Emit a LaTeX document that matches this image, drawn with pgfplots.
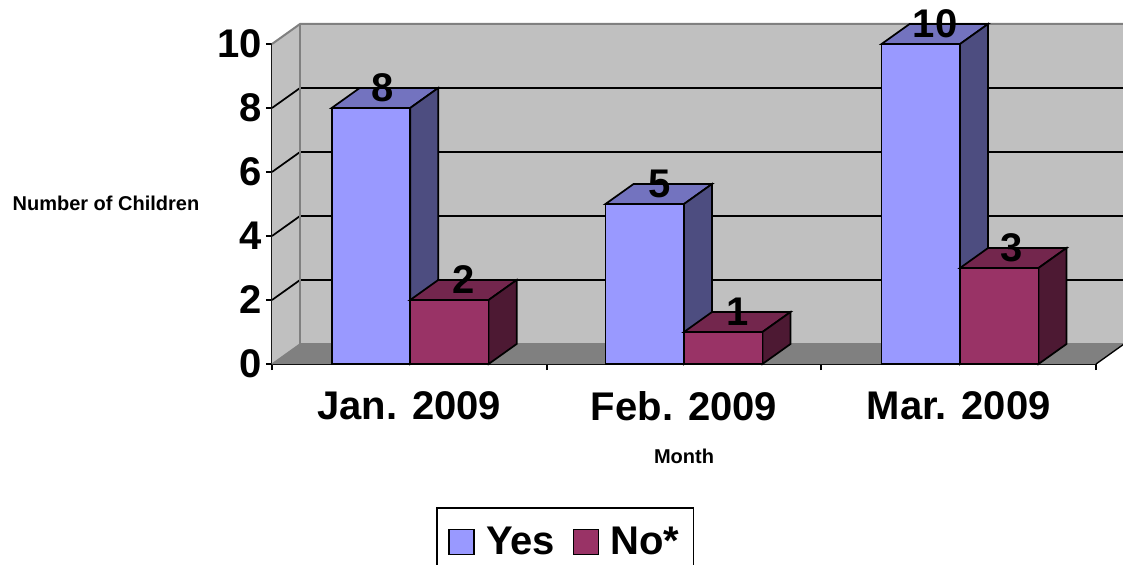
\documentclass[border=0pt]{standalone}
\usepackage{pgfplots}
\pgfplotsset{compat=1.18}
\usepackage{fontspec}
\setmainfont{Liberation Sans}
\definecolor{wall}{HTML}{C0C0C0}
\definecolor{floorc}{HTML}{808080}
\definecolor{yesfront}{HTML}{9999FF}
\definecolor{yestop}{HTML}{7373BF}
\definecolor{yesside}{HTML}{4D4D80}
\definecolor{nofront}{HTML}{993366}
\definecolor{notop}{HTML}{73264D}
\definecolor{noside}{HTML}{4D1933}
% depth of the pseudo-3D box, in axis units
\newcommand\ddx{0.102}
\newcommand\ddy{0.625}
% top and side faces of a bar: left x, right x, value, top colour, side colour
\newcommand\barfaces[5]{%
  \pgfmathsetmacro\xa{#1+\ddx}%
  \pgfmathsetmacro\xb{#2+\ddx}%
  \pgfmathsetmacro\yb{#3+\ddy}%
  \addplot[forget plot,fill=#4,draw=black,line width=1.3pt,line join=miter]
    coordinates {(#1,#3) (\xa,\yb) (\xb,\yb) (#2,#3) (#1,#3)} -- cycle;
  \addplot[forget plot,fill=#5,draw=black,line width=1.3pt,line join=miter]
    coordinates {(#2,0) (\xb,\ddy) (\xb,\yb) (#2,#3) (#2,0)} -- cycle;
}
\begin{document}
\begin{tikzpicture}
\useasboundingbox (0,0) rectangle (842.25pt,423pt);
\begin{axis}[
  at={(204pt,150pt)},anchor=south west,
  scale only axis,width=618pt,height=240pt,
  xmin=0,xmax=3,ymin=0,ymax=10,clip=false,
  axis lines=left,axis line style={-,black,line width=1.3pt},
  tick align=outside,
  major tick length=4.5pt,minor tick length=4.5pt,
  tick style={black,line width=1.3pt},
  xtick={0.5,1.5,2.5},
  xticklabels={Jan. 2009,Feb. 2009,Mar. 2009},
  minor xtick={0,1,2,3},
  x tick style={draw=none},
  minor x tick style={draw=black,line width=1.3pt},
  ytick={0,2,4,6,8,10},
  /pgf/number format/assume math mode=true,
  tick label style={font=\fontsize{30}{36}\selectfont\bfseries},
  xticklabel style={yshift=-13pt,inner sep=3pt},
  yticklabel style={inner sep=3pt},
  xlabel={Month},ylabel={Number of Children},
  every axis x label/.style={at={(rel axis cs:0.5,-0.29)},anchor=center,font=\fontsize{15}{18}\selectfont\bfseries},
  every axis y label/.style={at={(rel axis cs:-0.2015,0.503)},anchor=center,font=\fontsize{15}{18}\selectfont\bfseries},
  legend columns=2,
  legend style={at={(0.199,-0.447)},anchor=north west,draw=black,line width=1.3pt,
    font=\fontsize{30}{36}\selectfont\bfseries,inner xsep=8.5pt,inner ysep=12.5pt,
    /tikz/every even column/.append style={column sep=11pt},
    /tikz/every odd column/.append style={column sep=6.5pt}},
  nodes near coords style={anchor=center,inner sep=0pt,font=\fontsize{30}{36}\selectfont\bfseries},
]
% box walls and floor
\addplot[forget plot,fill=wall,draw=none] coordinates {(0,0) (\ddx,\ddy) (\ddx,10.625) (0,10) (0,0)} -- cycle;
\addplot[forget plot,fill=wall,draw=none] coordinates {(\ddx,\ddy) (3.102,\ddy) (3.102,10.625) (\ddx,10.625) (\ddx,\ddy)} -- cycle;
\addplot[forget plot,fill=floorc,draw=none] coordinates {(0,0) (\ddx,\ddy) (3.102,\ddy) (3,0) (0,0)} -- cycle;
% grid lines on the left and back walls
\foreach \v in {2,4,6,8} {
  \pgfmathsetmacro\vb{\v+\ddy}
  \addplot[forget plot,black,line width=1.3pt] coordinates {(0,\v) (\ddx,\vb) (3.102,\vb)};
}
\addplot[forget plot,floorc,line width=1.5pt] coordinates {(0,10) (\ddx,10.625) (3.102,10.625) (3.102,\ddy)};
\addplot[forget plot,floorc,line width=1.5pt] coordinates {(\ddx,10.625) (\ddx,\ddy) (3.102,\ddy)};
\addplot[forget plot,floorc,line width=1pt] coordinates {(0,0) (\ddx,\ddy)};
\addplot[forget plot,black,line width=1pt] coordinates {(3,0) (3.102,\ddy)};
% Jan. 2009
\barfaces{0.2173}{0.503}{8}{yestop}{yesside}
\addplot[ybar,bar width=0.2857,bar shift=-0.14285,fill=yesfront,draw=black,line width=1.3pt,
  legend image code/.code={\draw[fill=yesfront,draw=black,line width=1.3pt] (0pt,-9.4pt) rectangle (18.75pt,9.4pt);}]
  coordinates {(0.503,8)};
\addlegendentry{Yes}
\barfaces{0.503}{0.7887}{2}{notop}{noside}
\addplot[ybar,bar width=0.2857,bar shift=0.14285,fill=nofront,draw=black,line width=1.3pt,
  legend image code/.code={\draw[fill=nofront,draw=black,line width=1.3pt] (0pt,-9.4pt) rectangle (18.75pt,9.4pt);}]
  coordinates {(0.503,2)};
\addlegendentry{No*}
% Feb. 2009
\barfaces{1.2143}{1.5}{5}{yestop}{yesside}
\addplot[forget plot,ybar,bar width=0.2857,bar shift=-0.14285,fill=yesfront,draw=black,line width=1.3pt]
  coordinates {(1.5,5)};
\barfaces{1.5}{1.7857}{1}{notop}{noside}
\addplot[forget plot,ybar,bar width=0.2857,bar shift=0.14285,fill=nofront,draw=black,line width=1.3pt]
  coordinates {(1.5,1)};
% Mar. 2009
\barfaces{2.2193}{2.505}{10}{yestop}{yesside}
\addplot[forget plot,ybar,bar width=0.2857,bar shift=-0.14285,fill=yesfront,draw=black,line width=1.3pt]
  coordinates {(2.505,10)};
\barfaces{2.505}{2.7907}{3}{notop}{noside}
\addplot[forget plot,ybar,bar width=0.2857,bar shift=0.14285,fill=nofront,draw=black,line width=1.3pt]
  coordinates {(2.505,3)};
% value labels sitting on the top faces
\addplot[forget plot,draw=none,point meta=explicit,nodes near coords,
  nodes near coords align=center]
  coordinates {(0.404,8.625) [8] (0.698,2.625) [2] (1.412,5.625) [5]
               (1.697,1.625) [1] (2.414,10.625) [10] (2.693,3.625) [3]};
\end{axis}
\end{tikzpicture}
\end{document}
